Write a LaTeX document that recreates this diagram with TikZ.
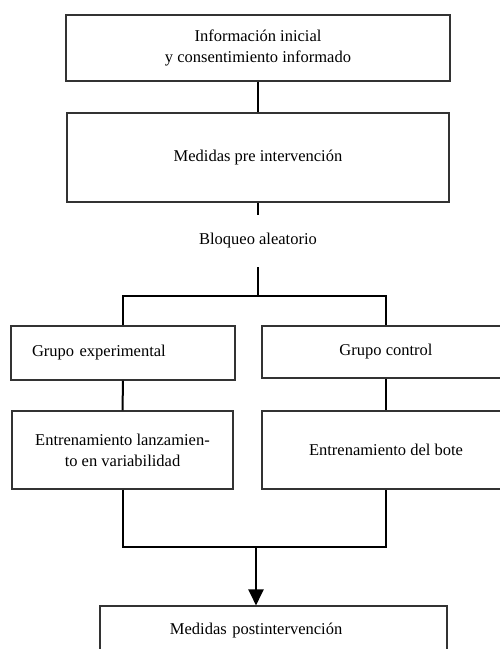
\documentclass[tikz,border=0pt]{standalone}
\usepackage{fontspec}
\setmainfont{Liberation Serif}
\usetikzlibrary{arrows.meta}
\begin{document}
\begin{tikzpicture}[x=1pt,y=-1pt,
  box/.style={draw=black!80, line width=1.1pt, rectangle, inner sep=0pt,
    font=\fontsize{16.5}{21}\selectfont, align=center},
  conn/.style={line width=2pt, line join=miter},
  lbl/.style={inner sep=0pt, font=\fontsize{16.5}{21}\selectfont}
]
\clip (0,0) rectangle (500,649);
\fill[white] (0,0) rectangle (500,649);

\node[box, minimum width=384pt, minimum height=66pt] (info) at (258,48)
  {Información inicial\\y consentimiento informado};
\node[box, minimum width=382pt, minimum height=89pt] (pre) at (258,157.5)
  {Medidas pre intervención};
\node[lbl, minimum height=52pt] (bloq) at (258,241) {Bloqueo aleatorio};
\coordinate (split) at (258,296);

\node[box, minimum width=224pt, minimum height=54pt, text width=224pt, align=left] (ge) at (123,353)
  {\hspace*{21pt}Grupo experimental};
\node[box, minimum width=248pt, minimum height=52pt] (gc) at (386,352)
  {Grupo control};
\node[box, minimum width=221pt, minimum height=78pt] (et) at (122.5,450)
  {Entrenamiento lanzamien-\\to en variabilidad};
\node[box, minimum width=248pt, minimum height=78pt] (eb) at (386,450)
  {Entrenamiento del bote};
\coordinate (merge) at (256,547);
\node[box, minimum width=347pt, minimum height=50pt, text width=347pt, align=left] (post) at (273.5,631)
  {\hspace*{70pt}Medidas postintervención};

\draw[conn] (info.south) -- (pre.north);
\draw[conn] (pre.south) -- (bloq.north);
\draw[conn] (bloq.south) -- (split);
\draw[conn] (ge.north) |- (split) -| (gc.north);
\draw[conn] (ge.south) -- (et.north);
\draw[conn] (gc.south) -- (eb.north);
\draw[conn] (et.south) |- (merge) -| (eb.south);
\draw[conn, -{Triangle[length=16pt,width=15pt]}] (merge) -- (merge |- post.north);
\end{tikzpicture}
\end{document}
